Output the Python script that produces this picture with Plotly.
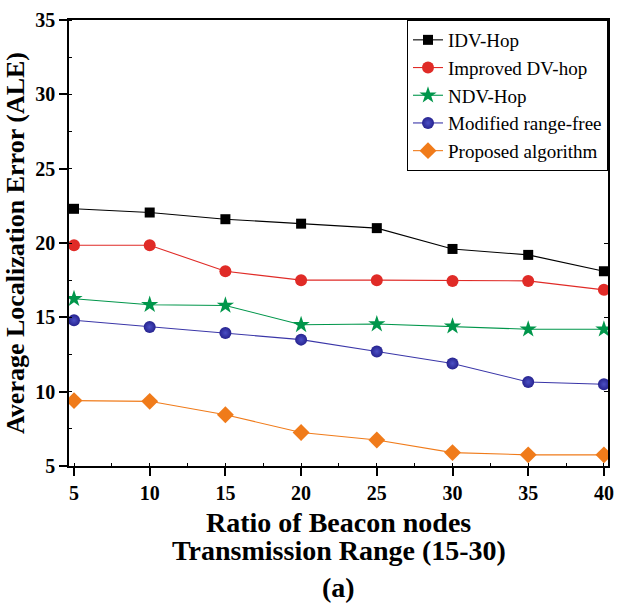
import plotly.graph_objects as go

x_vals = [5, 10, 15, 20, 25, 30, 35, 40]
idv_hop = [22.3, 22.05, 21.6, 21.3, 21.0, 19.6, 19.2, 18.1]
improved_dv = [19.85, 19.85, 18.1, 17.5, 17.5, 17.45, 17.45, 16.85]
ndv_hop = [16.25, 15.85, 15.8, 14.5, 14.55, 14.4, 14.2, 14.2]
modified_rf = [14.8, 14.35, 13.95, 13.5, 12.7, 11.9, 10.65, 10.5]
proposed = [9.4, 9.35, 8.45, 7.25, 6.75, 5.9, 5.75, 5.75]

x_title_lines = ["Ratio of Beacon nodes", "Transmission Range (15-30)"]
y_title = "Average Localization Error (ALE)"
caption = "(a)"

series = [
    ("IDV-Hop", idv_hop, "#000000", "square", 10, None),
    ("Improved DV-hop", improved_dv, "#e02b27", "circle", 12, None),
    ("NDV-Hop", ndv_hop, "#00964b", "star", 13, None),
    ("Modified range-free", modified_rf, "#26238f", "circle", 12, "#4b4fc4"),
    ("Proposed algorithm", proposed, "#f07b1a", "diamond", 13, None),
]

FONT = "Liberation Serif, Times New Roman, serif"

fig = go.Figure()
for name, ys, color, sym, size, grad in series:
    marker = dict(symbol=sym, size=size, color=color, line=dict(width=0))
    if grad:
        marker["gradient"] = dict(type="radial", color=grad)
    fig.add_trace(go.Scatter(
        x=x_vals, y=ys, name=name, mode="lines+markers",
        line=dict(color=color if not grad else "#3a36a8", width=1.1),
        marker=marker,
    ))

# invisible trace for right axis ticks
fig.add_trace(go.Scatter(x=[x_vals[0]], y=[idv_hop[0]], yaxis="y2",
                         mode="markers", marker=dict(opacity=0),
                         showlegend=False, hoverinfo="skip"))

title_font = dict(family=FONT, size=28, weight="bold", color="black")
plot_h = 604 - 20 - 138

def py(pixel_y):
    return (466 - pixel_y) / plot_h

fig.update_layout(
    width=622, height=604,
    margin=dict(l=69, r=8, t=20, b=138),
    plot_bgcolor="white", paper_bgcolor="white",
    font=dict(family=FONT, color="black"),
    showlegend=True,
    legend=dict(
        x=1.0, y=1.0, xanchor="right", yanchor="top",
        bgcolor="white", bordercolor="black", borderwidth=1,
        font=dict(family=FONT, size=19, color="black"),
        tracegroupgap=0, itemwidth=30,
    ),
    xaxis=dict(
        range=[4.67, 40.27], tickvals=x_vals,
        showgrid=False, zeroline=False,
        showline=True, linecolor="black", linewidth=1.5, mirror=True,
        ticks="outside", ticklen=8, tickwidth=1.5, tickcolor="black",
        minor=dict(ticks="inside", ticklen=3, dtick=2.5, tickcolor="black", tickwidth=1),
        tickfont=dict(family=FONT, size=20, weight="bold", color="black"),
    ),
    yaxis=dict(
        range=[5, 35], tickvals=[5, 10, 15, 20, 25, 30, 35],
        showgrid=False, zeroline=False,
        showline=True, linecolor="black", linewidth=1.5, mirror=True,
        ticks="outside", ticklen=8, tickwidth=1.5, tickcolor="black",
        minor=dict(ticks="inside", ticklen=3, dtick=2.5, tickcolor="black", tickwidth=1),
        tickfont=dict(family=FONT, size=20, weight="bold", color="black"),
        title=dict(text=y_title,
                   font=dict(family=FONT, size=26, weight="bold", color="black"),
                   standoff=3),
    ),
    yaxis2=dict(
        overlaying="y", side="right", range=[5, 35],
        tickvals=[5, 10, 15, 20, 25, 30, 35], showticklabels=False,
        showgrid=False, zeroline=False, showline=False,
        ticks="inside", ticklen=4, tickcolor="black", tickwidth=1,
    ),
    annotations=[
        dict(text=x_title_lines[0], xref="paper", yref="paper", x=0.5, y=py(522),
             xanchor="center", yanchor="middle", showarrow=False, font=title_font),
        dict(text=x_title_lines[1], xref="paper", yref="paper", x=0.5, y=py(550),
             xanchor="center", yanchor="middle", showarrow=False, font=title_font),
        dict(text=caption, xref="paper", yref="paper", x=0.5, y=py(587),
             xanchor="center", yanchor="middle", showarrow=False, font=title_font),
    ],
)

fig.write_html("out.html")
